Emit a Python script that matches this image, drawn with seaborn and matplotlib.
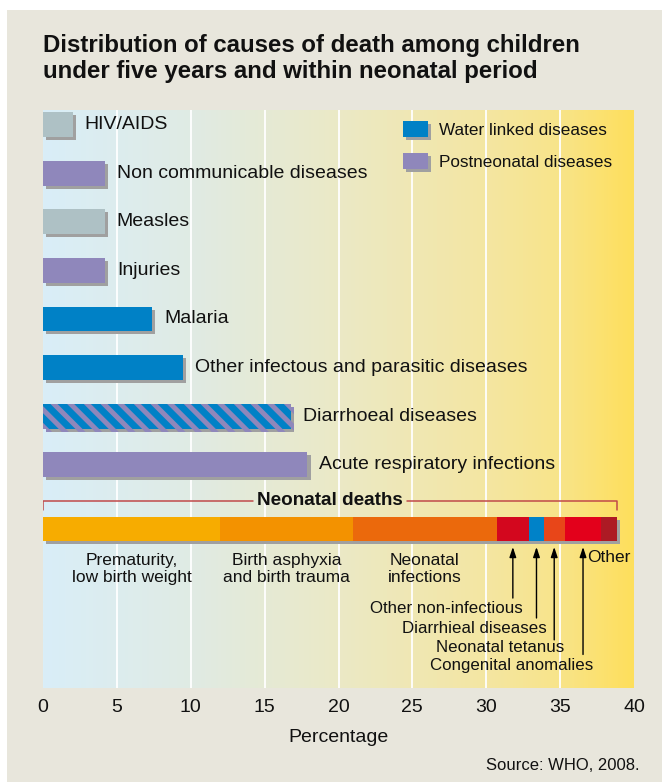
import matplotlib
matplotlib.use('Agg')
import matplotlib.pyplot as plt
import matplotlib.patheffects as pe
from matplotlib.colors import LinearSegmentedColormap
from matplotlib.patches import Patch, Rectangle
import numpy as np
import pandas as pd
import seaborn as sns

# under-five causes (percent)
causes = ['HIV/AIDS', 'Non communicable diseases', 'Measles', 'Injuries', 'Malaria',
          'Other infectous and parasitic diseases', 'Diarrhoeal diseases',
          'Acute respiratory infections']
shares = [2.0, 4.2, 4.2, 4.2, 7.4, 9.5, 16.8, 17.9]
groups = ['other', 'postneonatal', 'other', 'postneonatal', 'water', 'water',
          'both', 'postneonatal']

# neonatal breakdown (percent)
neonatal_causes = ['Prematurity,\nlow birth weight', 'Birth asphyxia\nand birth trauma',
                   'Neonatal\ninfections', 'Other non-infectious', 'Diarrhieal diseases',
                   'Neonatal tetanus', 'Congenital anomalies', 'Other']
neonatal_shares = [12.0, 9.0, 9.7, 2.2, 1.0, 1.4, 2.5, 1.05]
neonatal_colors = ['#f7ac00', '#f39200', '#eb690c', '#d3071e', '#0082c8',
                   '#e84619', '#e3001b', '#ad1a24']

x_ticks = [0, 5, 10, 15, 20, 25, 30, 35, 40]

BLUE = '#0081c6'
PURPLE = '#8f87bb'
GRAY = '#aec1c5'
SHADOW = '#a0a0a0'
PANEL = '#e8e6dc'
INK = '#111111'

sns.set_style('white')
plt.rcParams['font.family'] = ['Liberation Sans', 'DejaVu Sans']
plt.rcParams['hatch.linewidth'] = 3.6

fig = plt.figure(figsize=(6.62, 7.82), dpi=100, facecolor='white')
fig.patches.append(Rectangle((7 / 662, 0), 1, 1 - 10 / 782, transform=fig.transFigure,
                             facecolor=PANEL, edgecolor='none', zorder=-5))
ax = fig.add_axes([43 / 662, 1 - 688 / 782, 591 / 662, 578 / 782])

shadow = [pe.SimplePatchShadow(offset=(2.2, -2.2), shadow_rgbFace=SHADOW, alpha=1), pe.Normal()]

df = pd.DataFrame({'cause': causes, 'share': shares, 'group': groups})
palette = {'other': GRAY, 'postneonatal': PURPLE, 'water': BLUE, 'both': BLUE}
sns.barplot(data=df, x='share', y='cause', hue='group', palette=palette, dodge=False,
            width=0.51, saturation=1, linewidth=0, legend=False, ax=ax, zorder=3)

for p in ax.patches:
    p.set_path_effects(shadow)
    if abs(p.get_width() - shares[causes.index('Diarrhoeal diseases')]) < 1e-6:
        p.set_hatch('\\\\')
        p.set_edgecolor(PURPLE)
        p.set_linewidth(0)

for i, (c, v) in enumerate(zip(causes, shares)):
    ax.annotate(c, xy=(v, i), xytext=(8.5, 0), textcoords='offset points',
                va='center', ha='left', fontsize=14, color=INK)

# neonatal stacked bar
NEO_ROW = 8.32
lefts = np.cumsum([0] + neonatal_shares[:-1])
neo_bars = ax.barh(NEO_ROW, neonatal_shares, left=lefts, height=0.51,
                   color=neonatal_colors, linewidth=0, zorder=3)
for b in neo_bars:
    b.set_path_effects(shadow)
mids = lefts + np.array(neonatal_shares) / 2
total = sum(neonatal_shares)

for k in range(3):
    ax.text(mids[k], 9.14, neonatal_causes[k], ha='center', va='center',
            fontsize=12.5, linespacing=1.15, color=INK)
ax.text(mids[7], 8.9, neonatal_causes[7], ha='center', va='center', fontsize=12.5,
        color=INK)

arrow_ends = [9.74, 10.15, 10.6, 10.9]
label_ys = [9.95, 10.36, 10.75, 11.12]
for k, (ye, yl) in zip(range(3, 7), zip(arrow_ends, label_ys)):
    ax.annotate('', xy=(mids[k], 8.69), xytext=(mids[k], ye),
                arrowprops=dict(arrowstyle='-|>,head_length=0.6,head_width=0.2',
                                color='black', lw=1.0, shrinkA=0, shrinkB=0), zorder=4)
    ax.text(mids[k] + 0.68, yl, neonatal_causes[k], ha='right', va='center',
            fontsize=12.2, color=INK)

# bracket
BR_Y = 7.74
t = ax.text(total / 2, BR_Y, 'Neonatal deaths', ha='center', va='center',
            fontsize=13.6, fontweight='bold', color=INK)

ax.set_xlim(0, 40)
ax.set_ylim(11.59, -0.298)
fig.canvas.draw()
bb = t.get_window_extent().transformed(ax.transData.inverted())
gap = 0.25
br_color = '#c04a4a'
ax.plot([0, 0, bb.x0 - gap], [7.93, BR_Y, BR_Y], color=br_color, lw=1.1, zorder=3)
ax.plot([bb.x1 + gap, total, total], [BR_Y, BR_Y, 7.93], color=br_color, lw=1.1, zorder=3)

# background gradient + grid
cmap = LinearSegmentedColormap.from_list('bg', [
    (0.0, '#d9eef8'), (0.25, '#e0ebe4'), (0.5, '#ebe9c6'),
    (0.75, '#f4e6a2'), (0.875, '#f8e48a'), (1.0, '#fedf5c')])
ax.imshow(np.linspace(0, 1, 256).reshape(1, -1), extent=[0, 1, 0, 1],
          transform=ax.transAxes, aspect='auto', cmap=cmap, zorder=0)
ax.vlines(x_ticks[1:-1], 0, 1, transform=ax.get_xaxis_transform(),
          colors='white', lw=1.3, zorder=1)
ax.set_xlim(0, 40)
ax.set_ylim(11.59, -0.298)

# legend
handles = [Patch(facecolor=BLUE, linewidth=0, label='Water linked diseases'),
           Patch(facecolor=PURPLE, linewidth=0, label='Postneonatal diseases')]
leg = ax.legend(handles=handles, loc='upper left', bbox_to_anchor=(0.609, 0.981),
                frameon=False, fontsize=12.3, handlelength=1.45, handleheight=1.1,
                handletextpad=0.65, labelspacing=0.85, borderpad=0, borderaxespad=0)
for h in leg.legend_handles:
    h.set_path_effects(shadow)
for txt in leg.get_texts():
    txt.set_color(INK)

ax.set_xticks(x_ticks)
ax.set_xticklabels([str(v) for v in x_ticks])
ax.set_yticks([])
ax.set_ylabel('')
ax.tick_params(axis='x', length=0, pad=8, labelsize=14, labelcolor=INK)
ax.set_xlabel('Percentage', fontsize=14, labelpad=9, color=INK)
for s in ax.spines.values():
    s.set_visible(False)

fig.text(43 / 662, 1 - 52 / 782, 'Distribution of causes of death among children',
         fontweight='bold', fontsize=17.3, va='baseline', ha='left', color=INK)
fig.text(43 / 662, 1 - 78 / 782, 'under five years and within neonatal period',
         fontweight='bold', fontsize=17.3, va='baseline', ha='left', color=INK)
fig.text(640 / 662, 1 - 766 / 782, 'Source: WHO, 2008.', ha='right', va='center',
         fontsize=12, color=INK)

fig.savefig('out.png', dpi=100, facecolor='white')
